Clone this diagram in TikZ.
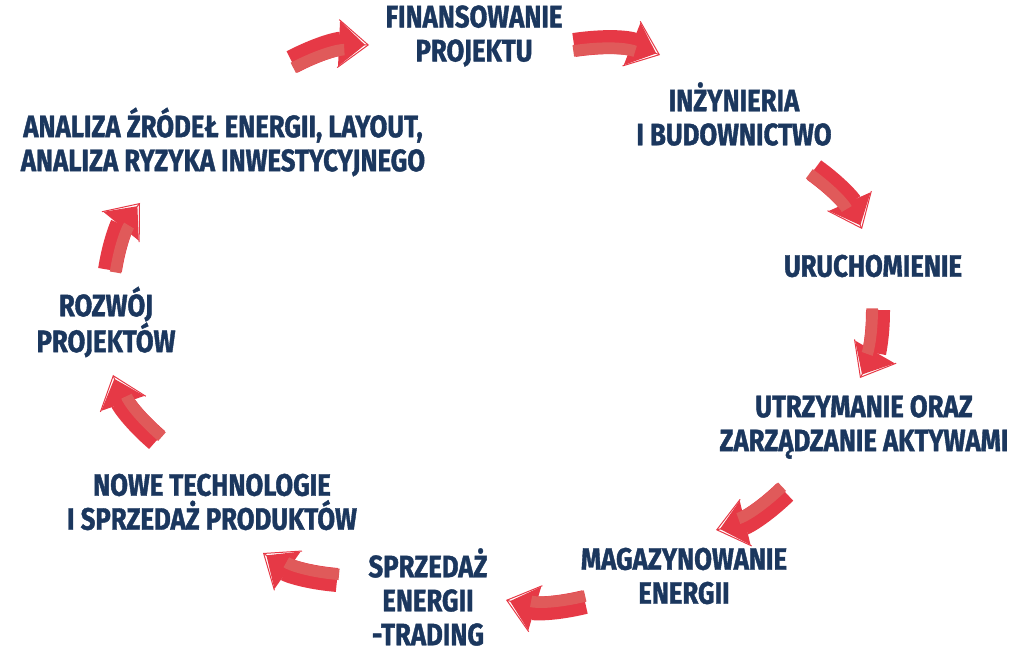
\documentclass[tikz,border=0pt]{standalone}
\usepackage{fontspec}
\newfontfamily\labelfont{Fira Sans}[FakeStretch=0.83,FakeBold=1.2]
\usetikzlibrary{arrows.meta,calc}
\definecolor{navy}{HTML}{1B375E}
\definecolor{arrowred}{HTML}{E63946}
\definecolor{arrowlight}{HTML}{E05A5A}
\tikzset{
  lbl/.style={align=center,text=navy,inner sep=0pt,font=\labelfont\bfseries\fontsize{31}{34}\selectfont},
}
% curved arrow: tail, tip, bend
\newcommand\redarrow[3]{%
  \draw[arrowred,line width=1pt,-{Straight Barb[length=30pt,width=48pt,line width=1pt]}] (#1) to[bend left=#3] (#2);
  \draw[arrowred,line width=24pt,shorten >=4pt,-{Triangle[length=26pt,width=44pt]}] (#1) to[bend left=#3] (#2);
  \draw[arrowlight,line width=11.5pt,shorten >=26pt] ($(#1)!6pt!-90:(#2)$) to[bend left=#3] ($(#2)!6pt!90:(#1)$);
}
\begin{document}
\begin{tikzpicture}[x=1pt,y=1pt]
  \useasboundingbox (0,0) rectangle (1024,655);

  \node[lbl] (fin) at (474,619) {FINANSOWANIE\\PROJEKTU};
  \node[lbl] (inz) at (734,541) {INŻYNIERIA\\I BUDOWNICTWO};
  \node[lbl] (uru) at (873,389) {URUCHOMIENIE};
  \node[lbl] (utr) at (864,228) {UTRZYMANIE ORAZ\\ZARZĄDZANIE AKTYWAMI};
  \node[lbl] (mag) at (684,79) {MAGAZYNOWANIE\\ENERGII};
  \node[lbl] (spr) at (428,58) {SPRZEDAŻ\\ENERGII\\-TRADING};
  \node[lbl] (now) at (212,153) {NOWE TECHNOLOGIE\\I SPRZEDAŻ PRODUKTÓW};
  \node[lbl] (roz) at (106,333) {ROZWÓJ\\PROJEKTÓW};
  \node[lbl] (ana) at (223,513) {ANALIZA ŹRÓDEŁ ENERGII, LAYOUT,\\ANALIZA RYZYKA INWESTYCYJNEGO};

  % arrow ends
  \coordinate (t1) at (292,593); \coordinate (h1) at (369,610);
  \coordinate (t2) at (574,610); \coordinate (h2) at (660,600);
  \coordinate (t3) at (814,485); \coordinate (h3) at (862,426);
  \coordinate (t4) at (878,345); \coordinate (h4) at (860,277);
  \coordinate (t5) at (785,163); \coordinate (h5) at (716,125);
  \coordinate (t6) at (585,53);  \coordinate (h6) at (506,55);
  \coordinate (t7) at (337,75);  \coordinate (h7) at (263,102);
  \coordinate (t8) at (157,215); \coordinate (h8) at (113,280);
  \coordinate (t9) at (110,385); \coordinate (h9) at (140,452);

  \foreach \i in {1,...,9} {\redarrow{t\i}{h\i}{15}}
\end{tikzpicture}
\end{document}
